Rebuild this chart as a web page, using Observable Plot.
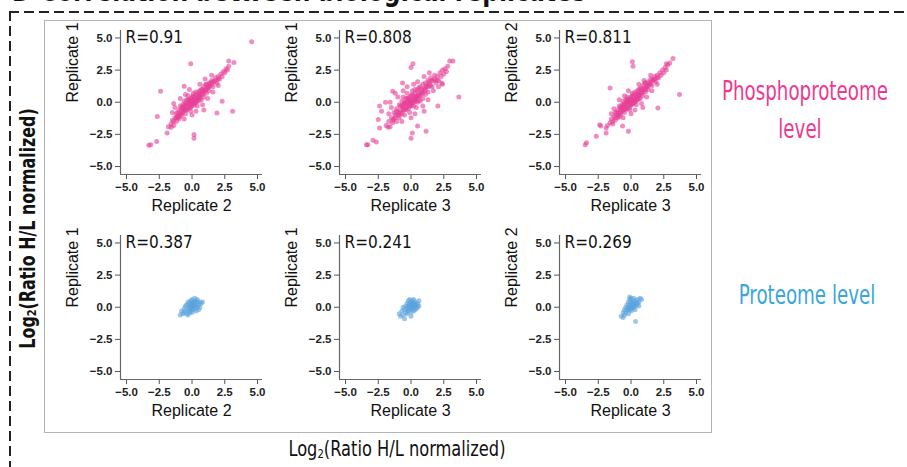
<!DOCTYPE html>
<html>
<head>
<meta charset="utf-8">
<script src="https://cdn.jsdelivr.net/npm/d3@7"></script>
<script src="https://cdn.jsdelivr.net/npm/@observablehq/plot@0.6"></script>
<style>
  html, body { margin: 0; padding: 0; background: #fff; }
  #root { position: relative; width: 907px; height: 467px; overflow: hidden; background: #fff; }
  .abs { position: absolute; }
  .panel svg { overflow: visible; }
</style>
</head>
<body>
<div id="root"></div>
<script>
// ---------- data ----------
const panelRowLabels = ["Phosphoproteome level", "Proteome level"];
const xLabels = ["Replicate 2", "Replicate 3", "Replicate 3"];
const yLabels = ["Replicate 1", "Replicate 1", "Replicate 2"];
const rPhospho = ["R=0.91", "R=0.808", "R=0.811"];
const rProteome = ["R=0.387", "R=0.241", "R=0.269"];
const tickValues = [-5, -2.5, 0, 2.5, 5];

// Phosphoproteome: Replicate 2 (x) vs Replicate 1 (y)
const phospho21 = [
  [4.55,4.7],[-0.1,3.0],[2.8,3.2],[3.2,3.1],[-2.4,0.86],[-2.65,-1.1],[-3.3,-3.35],[-3.15,-3.3],[-2.7,-3.05],
  [-1.9,-2.4],[-1.6,-1.95],[0.15,-2.5],[0.15,-2.8],[2.3,0.08],[3.1,-0.7],[1.9,-0.83],[1.05,1.38],[-0.6,1.25],[-1.1,-1.2],
  [-1.8,-1.9],[-1.6,-1.7],[-1.5,-1.4],[-1.4,-1.8],[-1.3,-1.2],[-1.2,-1.5],[-1.2,-0.9],[-1.1,-1.1],[-1.0,-0.6],[-1.0,-1.3],
  [-0.9,-0.9],[-0.9,-0.3],[-0.8,-1.0],[-0.8,-0.6],[-0.7,-0.2],[-0.7,-0.8],[-0.6,-0.5],[-0.6,0.1],[-0.5,-0.9],[-0.5,-0.3],
  [-0.4,0.2],[-0.4,-0.6],[-0.3,-0.1],[-0.3,0.5],[-0.2,-0.4],[-0.2,0.2],[-0.1,-0.7],[-0.1,0.0],[0.0,0.4],[0.0,-0.3],
  [0.1,0.1],[0.1,0.7],[0.2,-0.2],[0.2,0.4],[0.3,0.0],[0.3,0.8],[0.4,0.3],[0.4,-0.3],[0.5,0.6],[0.5,0.1],[0.6,0.9],
  [0.6,0.4],[0.7,0.2],[0.7,1.0],[0.8,0.6],[0.9,1.2],[0.9,0.4],[1.0,0.9],[1.1,1.4],[1.1,0.7],[1.2,1.1],[1.3,1.5],
  [1.3,0.9],[1.4,1.3],[1.5,1.7],[1.6,1.2],[1.7,1.6],[1.8,1.9],[1.9,1.5],[2.0,2.0],[2.1,1.8],[2.2,2.2],[2.3,2.0],
  [2.4,2.4],[2.5,2.3],[2.6,2.6],[2.7,2.5],[2.8,2.8],[-1.3,-0.4],[-1.5,-0.8],[-0.9,0.3],[-0.5,0.6],[0.3,-0.7],
  [0.8,-0.2],[1.2,0.3],[1.6,0.8],[-0.2,1.0],[0.6,1.4],[1.0,1.8],[-1.4,-0.1],[-0.6,-1.3],[0.0,-1.0],[0.9,-0.6],
  [1.5,2.1],[2.0,1.3],
  [-1.2,-1.2],[-1.0,-1.0],[-0.8,-0.8],[-0.6,-0.6],[-0.4,-0.4],[-0.2,-0.2],[0.0,0.0],[0.2,0.2],[0.4,0.4],[0.6,0.6],
  [0.8,0.8],[1.0,1.0],[1.2,1.2],[1.4,1.5],[1.6,1.6],[1.8,1.7],[2.0,1.8],[-0.7,-0.4],[-0.5,-0.1],[-0.3,0.2],[-0.1,0.3],
  [0.1,0.5],[0.3,0.6],[0.5,0.8],[-0.5,-0.6],[-0.3,-0.5],[-0.1,-0.4],[0.1,-0.1],[0.3,0.2],[0.5,0.4],[0.7,0.6],[0.9,0.8],
  [1.1,1.0],[-0.9,-1.1],[-1.1,-0.8],[0.0,0.2],[0.2,0.0],[-0.2,0.0],[0.0,-0.2],[0.4,0.1],[-0.4,-0.1],[0.6,0.3],
  [-0.6,-0.3],[0.8,1.0],[-0.8,-0.4],[1.3,1.2],[1.5,1.4],[-1.4,-1.5]
];
// Phosphoproteome: Replicate 3 (x) vs Replicate 1 (y)
const phospho31 = [
  [0.15,3.0],[0.0,2.7],[2.95,3.2],[3.2,3.2],[3.65,0.4],[-0.65,1.5],[-2.4,-0.3],[-2.25,-0.7],[-2.5,-1.35],[-2.4,-2.0],
  [-1.75,-1.95],[-3.4,-3.3],[-3.3,-3.3],[-2.9,-2.95],[-2.65,-3.1],[0.1,-2.4],[0.0,-2.8],[1.15,-2.25],[2.35,1.5],
  [2.4,1.4],[2.05,-0.3],[-1.95,0.0],[-1.4,0.85],[0.5,-1.85],
  [-1.9,-1.8],[-1.7,-1.5],[-1.6,-1.9],[-1.5,-1.2],[-1.4,-1.6],[-1.3,-0.8],[-1.3,-1.3],[-1.2,-1.0],[-1.1,-0.5],
  [-1.1,-1.5],[-1.0,-0.8],[-0.9,-0.2],[-0.9,-1.2],[-0.8,-0.6],[-0.7,0.1],[-0.7,-0.9],[-0.6,-0.4],[-0.6,0.4],
  [-0.5,-1.0],[-0.5,-0.1],[-0.4,0.3],[-0.4,-0.6],[-0.3,0.0],[-0.3,0.7],[-0.2,-0.5],[-0.2,0.3],[-0.1,-0.8],[-0.1,0.1],
  [0.0,0.5],[0.0,-0.3],[0.1,0.2],[0.1,0.9],[0.2,-0.3],[0.2,0.5],[0.3,0.1],[0.3,1.0],[0.4,0.4],[0.4,-0.4],[0.5,0.8],
  [0.5,0.0],[0.6,1.1],[0.6,0.5],[0.7,0.1],[0.7,1.2],[0.8,0.7],[0.9,1.4],[0.9,0.3],[1.0,1.0],[1.1,1.5],[1.1,0.6],
  [1.2,1.2],[1.3,1.7],[1.3,0.8],[1.4,1.4],[1.5,1.9],[1.6,1.2],[1.7,1.7],[1.8,2.1],[1.9,1.5],[2.0,2.0],[2.1,1.7],
  [2.2,2.3],[2.3,2.0],[2.4,2.5],[2.5,2.2],[2.6,2.6],[2.7,2.4],[2.8,2.8],[-1.5,-0.4],[-1.7,-0.9],[-1.0,0.4],
  [-0.6,0.9],[0.3,-0.9],[0.9,-0.3],[1.3,0.2],[1.7,0.9],[-0.3,1.2],[0.5,1.6],[1.0,2.0],[-1.6,0.0],[-0.7,-1.5],
  [0.0,-1.2],[1.0,-0.7],[1.4,2.3],[2.1,1.2],[-1.2,0.7],[0.2,1.4],
  [-1.2,-1.2],[-1.0,-1.0],[-0.8,-0.8],[-0.6,-0.6],[-0.4,-0.4],[-0.2,-0.2],[0.0,0.0],[0.2,0.2],[0.4,0.4],[0.6,0.6],
  [0.8,0.8],[1.0,1.1],[1.2,1.3],[1.4,1.6],[1.6,1.7],[1.8,1.8],[2.0,1.7],[-0.7,-0.3],[-0.5,0.0],[-0.3,0.3],[-0.1,0.4],
  [0.1,0.6],[0.3,0.7],[0.5,1.0],[-0.5,-0.6],[-0.3,-0.4],[-0.1,-0.3],[0.1,-0.1],[0.3,0.3],[0.5,0.4],[0.7,0.5],[0.9,0.7],
  [1.1,0.9],[-0.9,-1.0],[-1.1,-0.7],[0.0,0.2],[0.2,0.0],[-0.2,0.0],[0.0,-0.2],[0.4,0.1],[-0.4,-0.1],[0.6,0.2],
  [-0.6,-0.2],[0.8,1.0],[-0.8,-0.3],[1.3,1.2],[1.5,1.3],[-1.4,-1.4]
];
// Phosphoproteome: Replicate 3 (x) vs Replicate 2 (y)
const phospho32 = [
  [0.1,3.15],[0.15,2.8],[3.2,3.4],[2.95,3.05],[2.7,3.0],[3.7,0.6],[-1.6,1.1],[-2.4,-1.75],[-2.3,-1.85],[-1.9,-2.4],
  [-3.5,-3.3],[-3.4,-3.15],[-2.65,-2.65],[-0.65,-1.85],[-0.2,-2.25],[1.05,1.5],[2.05,-0.45],[1.7,1.75],[-1.9,-2.0],
  [-1.8,-1.8],[-1.6,-1.6],[-1.5,-1.3],[-1.4,-1.7],[-1.3,-1.1],[-1.2,-1.4],[-1.2,-0.8],[-1.1,-1.0],[-1.0,-0.6],
  [-1.0,-1.2],[-0.9,-0.8],[-0.9,-0.3],[-0.8,-1.0],[-0.8,-0.5],[-0.7,-0.2],[-0.7,-0.7],[-0.6,-0.4],[-0.6,0.1],
  [-0.5,-0.8],[-0.5,-0.2],[-0.4,0.2],[-0.4,-0.5],[-0.3,0.0],[-0.3,0.4],[-0.2,-0.3],[-0.2,0.2],[-0.1,-0.6],[-0.1,0.1],
  [0.0,0.4],[0.0,-0.2],[0.1,0.2],[0.1,0.7],[0.2,-0.1],[0.2,0.5],[0.3,0.1],[0.3,0.8],[0.4,0.4],[0.4,-0.2],[0.5,0.7],
  [0.5,0.2],[0.6,1.0],[0.6,0.5],[0.7,0.3],[0.7,1.1],[0.8,0.7],[0.9,1.3],[0.9,0.5],[1.0,1.0],[1.1,1.5],[1.1,0.8],
  [1.2,1.2],[1.3,1.6],[1.3,1.0],[1.4,1.4],[1.5,1.8],[1.6,1.3],[1.7,1.7],[1.8,2.0],[1.9,1.6],[2.0,2.1],[2.1,1.9],
  [2.2,2.3],[2.3,2.1],[2.4,2.5],[2.5,2.3],[2.6,2.7],[2.7,2.5],[2.8,2.9],[-1.3,-0.5],[-1.5,-0.9],[-0.9,0.2],
  [-0.5,0.5],[0.3,-0.6],[0.8,-0.1],[1.2,0.4],[1.6,0.9],[-0.2,0.9],[0.6,1.4],[1.0,1.7],[-0.6,-1.2],[0.0,-0.9],
  [0.9,-0.4],[1.5,2.1],[2.0,1.4],
  [-1.2,-1.2],[-1.0,-1.0],[-0.8,-0.8],[-0.6,-0.6],[-0.4,-0.4],[-0.2,-0.2],[0.0,0.0],[0.2,0.2],[0.4,0.4],[0.6,0.6],
  [0.8,0.8],[1.0,1.1],[1.2,1.3],[1.4,1.5],[1.6,1.7],[1.8,1.8],[2.0,1.9],[-0.7,-0.4],[-0.5,-0.1],[-0.3,0.2],[-0.1,0.3],
  [0.1,0.5],[0.3,0.6],[0.5,0.9],[-0.5,-0.6],[-0.3,-0.5],[-0.1,-0.4],[0.1,-0.1],[0.3,0.2],[0.5,0.4],[0.7,0.6],[0.9,0.8],
  [1.1,1.0],[-0.9,-1.1],[-1.1,-0.8],[0.0,0.2],[0.2,0.0],[-0.2,0.0],[0.0,-0.2],[0.4,0.1],[-0.4,-0.1],[0.6,0.3],
  [-0.6,-0.3],[0.8,1.0],[-0.8,-0.4],[1.3,1.2],[1.5,1.4],[-1.4,-1.5]
];
// Proteome: Replicate 2 (x) vs Replicate 1 (y)
const proteome21 = [
  [-0.9,-0.6],[-0.8,-0.3],[-0.7,-0.5],[-0.6,-0.1],[-0.6,-0.4],[-0.5,0.1],[-0.5,-0.3],[-0.4,-0.5],[-0.4,0.2],
  [-0.3,-0.2],[-0.3,0.4],[-0.2,0.0],[-0.2,-0.4],[-0.2,0.3],[-0.1,0.5],[-0.1,-0.1],[-0.1,-0.3],[0.0,0.2],[0.0,0.0],
  [0.0,-0.4],[0.0,0.6],[0.1,0.3],[0.1,-0.2],[0.1,0.1],[0.2,0.4],[0.2,-0.1],[0.2,0.7],[0.3,0.2],[0.3,-0.3],[0.3,0.5],
  [0.4,0.0],[0.4,0.4],[0.5,0.2],[0.5,-0.2],[0.6,0.4],[0.6,0.0],[0.7,0.3],[0.8,0.4],[-0.3,-0.6],[0.4,0.6],
  [0.0,0.1],[0.1,0.0],[-0.1,0.1],[0.2,0.2],[-0.2,-0.1],[0.3,0.1],[0.1,0.4],[-0.1,0.3]
];
// Proteome: Replicate 3 (x) vs Replicate 1 (y)
const proteome31 = [
  [-0.9,-0.5],[-0.8,-0.7],[-0.7,-0.3],[-0.6,-0.6],[-0.5,-0.2],[-0.5,-0.9],[-0.4,0.1],[-0.4,-0.4],[-0.3,-0.1],
  [-0.3,0.3],[-0.3,-0.5],[-0.2,0.1],[-0.2,-0.3],[-0.2,0.5],[-0.1,0.2],[-0.1,-0.2],[-0.1,0.6],[0.0,0.0],[0.0,0.4],
  [0.0,-0.4],[0.1,0.2],[0.1,-0.1],[0.1,0.5],[0.2,0.0],[0.2,0.3],[0.2,-0.3],[0.3,0.1],[0.3,0.4],[0.3,-0.2],[0.4,0.2],
  [0.4,-0.1],[0.5,0.3],[0.6,0.1],[0.6,0.5],[-0.6,0.0],[0.0,-0.7],[0.5,0.0],[-0.1,0.3],[0.2,0.6],
  [0.0,0.1],[0.1,0.0],[-0.1,0.0],[0.2,0.2],[-0.2,-0.1],[0.1,0.3],[0.3,0.2]
];
// Proteome: Replicate 3 (x) vs Replicate 2 (y)
const proteome32 = [
  [-0.75,-0.7],[-0.6,-0.4],[-0.5,-0.6],[-0.5,-0.2],[-0.4,0.0],[-0.4,-0.4],[-0.3,-0.2],[-0.3,0.2],[-0.2,-0.5],
  [-0.2,0.0],[-0.2,0.4],[-0.1,-0.2],[-0.1,0.2],[-0.1,0.6],[0.0,0.0],[0.0,0.4],[0.0,-0.3],[0.1,0.2],[0.1,-0.1],
  [0.1,0.5],[0.2,0.0],[0.2,0.3],[0.2,0.7],[0.3,0.2],[0.3,-0.2],[0.3,0.5],[0.4,0.1],[0.4,0.4],[0.5,0.3],[0.5,0.6],
  [0.6,0.4],[0.7,0.7],[0.8,0.6],[0.35,-1.1],[-0.6,-0.8],[0.6,0.1],[-0.1,0.8],[0.0,0.7],
  [0.0,0.1],[0.1,0.1],[-0.1,0.0],[0.2,0.2],[-0.2,-0.2],[0.1,0.3],[0.3,0.3]
];

// ---------- layout ----------
const root = document.getElementById("root");
const xDomain = [-5.46, 5.38];
const yDomain = [-5.62, 5.58];
const fmt = d3.format(".1f");
const condensed = "'Liberation Sans Narrow','Arial Narrow','DejaVu Sans Condensed',sans-serif";

function panel(points, color, rText, xLab, yLab) {
  return Plot.plot({
    width: 220, height: 200,
    marginLeft: 70, marginRight: 8, marginTop: 10, marginBottom: 46,
    x: {domain: xDomain},
    y: {domain: yDomain},
    style: {fontFamily: "'Liberation Sans', Arial, sans-serif", fontSize: "11.5px", color: "#222", background: "transparent", overflow: "visible"},
    marks: [
      Plot.axisX(tickValues, {tickSize: 5, tickPadding: 3, tickFormat: fmt, label: null, stroke: "#555", fill: "#222", fontWeight: "bold"}),
      Plot.axisY(tickValues, {tickSize: 5, tickPadding: 3, tickFormat: fmt, label: null, stroke: "#555", fill: "#222", fontWeight: "bold"}),
      Plot.ruleX([xDomain[0]], {stroke: "#666", strokeWidth: 1.2}),
      Plot.ruleY([yDomain[0]], {stroke: "#666", strokeWidth: 1.2}),
      Plot.dot(points, {x: d => d[0], y: d => d[1], r: 2.5, fill: color, fillOpacity: 0.6, stroke: "none"}),
      Plot.text([rText], {frameAnchor: "top-left", dx: 5, dy: 7, textAnchor: "start", lineAnchor: "middle",
        fontSize: 17, fill: "#111", fontFamily: condensed}),
      Plot.text([xLab], {frameAnchor: "bottom", dy: 31, lineAnchor: "middle", fontSize: 16, fill: "#111"}),
      Plot.text([yLab], {frameAnchor: "left", dx: -48, rotate: -90, lineAnchor: "middle", fontSize: 16, fill: "#111"})
    ]
  });
}

function place(el, left, top) {
  const d = document.createElement("div");
  d.className = "abs panel";
  d.style.left = left + "px";
  d.style.top = top + "px";
  d.appendChild(el);
  root.appendChild(d);
}

function addDiv(html, css) {
  const d = document.createElement("div");
  d.className = "abs";
  d.innerHTML = html;
  Object.assign(d.style, css);
  root.appendChild(d);
  return d;
}

// title (cut off at the top edge, as in the reference) and dashed border
addDiv("D Correlation between biological replicates", {left: "12px", top: "-24px", fontFamily: condensed, fontWeight: "bold", fontSize: "30px", lineHeight: "30px", color: "#111", whiteSpace: "nowrap", transform: "scaleX(0.87)", transformOrigin: "0 50%"});
addDiv("", {left: "9px", top: "11px", width: "900px", height: "1.5px", background: "repeating-linear-gradient(to right, #222 0 10px, transparent 10px 15px)"});
addDiv("", {left: "9px", top: "11px", width: "1.5px", height: "460px", background: "repeating-linear-gradient(to bottom, #222 0 10px, transparent 10px 15px)"});

// gray frame
addDiv("", {left: "44px", top: "20px", width: "668px", height: "413px", border: "1.5px solid #b4b4b4", boxSizing: "border-box"});

const lefts = [50, 269, 489];
const phospho = [phospho21, phospho31, phospho32];
const proteome = [proteome21, proteome31, proteome32];
for (let i = 0; i < 3; i++) {
  place(panel(phospho[i], "#e63f96", rPhospho[i], xLabels[i], yLabels[i]), lefts[i], 20);
  place(panel(proteome[i], "#5ba4de", rProteome[i], xLabels[i], yLabels[i]), lefts[i], 225);
}

// row labels
addDiv("Phosphoproteome<br>level", {left: "700px", top: "72px", width: "200px", textAlign: "center", fontFamily: condensed, fontSize: "26px", lineHeight: "38px", color: "#ec3a8e", transform: "scaleX(0.78)"});
addDiv("Proteome level", {left: "707px", top: "278px", width: "200px", textAlign: "center", fontFamily: condensed, fontSize: "26px", lineHeight: "34px", color: "#3aa6dc", transform: "scaleX(0.78)"});

// shared axis titles
const axTitle = "Log<span style='font-size:0.62em;vertical-align:-0.15em'>2</span>(Ratio H/L normalized)";
addDiv(axTitle, {left: "197px", top: "436px", width: "400px", textAlign: "center", fontFamily: condensed, fontSize: "21px", lineHeight: "26px", color: "#111", whiteSpace: "nowrap", transform: "scaleX(0.86)"});
addDiv(axTitle, {left: "-170px", top: "213px", width: "400px", textAlign: "center", fontFamily: condensed, fontSize: "21px", fontWeight: "bold", lineHeight: "26px", color: "#111", whiteSpace: "nowrap", transform: "rotate(-90deg) scaleX(0.84)"});
</script>
</body>
</html>
